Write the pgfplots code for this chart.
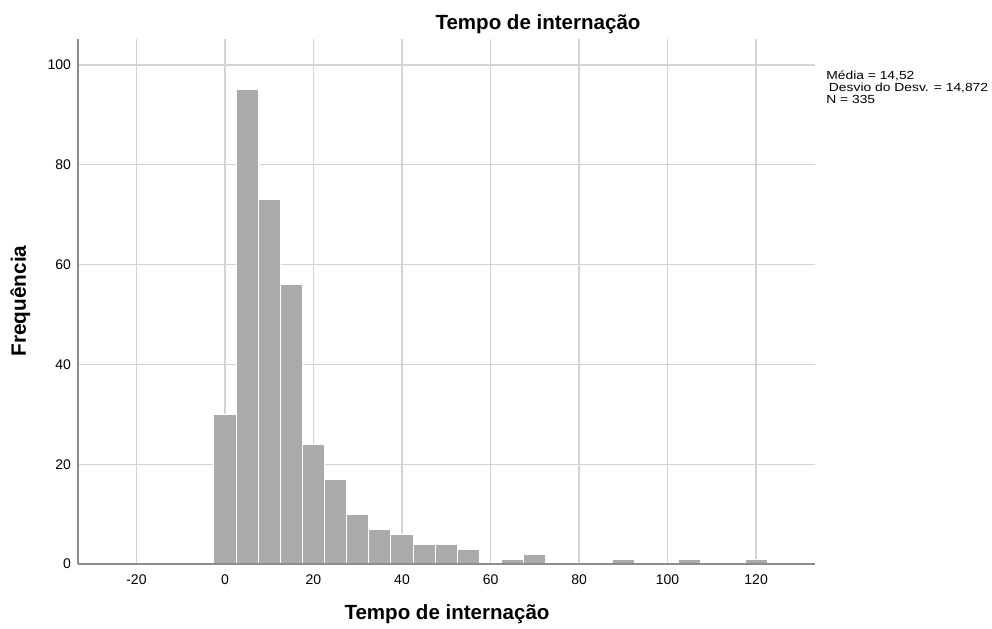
\documentclass[border=0pt]{standalone}
\usepackage{pgfplots}
\pgfplotsset{compat=1.18}
\usepackage{fontspec}
\setmainfont{Liberation Sans}
\definecolor{barfill}{RGB}{170,170,170}
\definecolor{gridc}{RGB}{212,212,212}
\definecolor{axisc}{RGB}{140,140,140}
\begin{document}
\begin{tikzpicture}
\begin{axis}[
  set layers, axis on top,
  at={(58.5pt,48pt)}, anchor=south west,
  scale only axis, width=552.75pt, height=393.75pt,
  xmin=-33.2, xmax=133.3, ymin=0, ymax=105.2,
  axis lines=left, axis line style={-, draw=axisc, line width=1pt},
  xtick={-20,0,20,40,60,80,100,120},
  ytick={0,20,40,60,80,100},
  major tick length=0pt,
  grid=major,
  major grid style={/pgfplots/on layer=axis background, draw=gridc, line width=1pt},
  tick label style={font=\fontsize{10.5pt}{12pt}\selectfont},
  /pgf/number format/assume math mode=true,
  xticklabel style={yshift=-4.7pt},
  yticklabel style={xshift=-1.7pt},
]
\addplot[ybar, bar width=5, fill=barfill, draw=white, line width=0.75pt] coordinates {
 (0,30) (5,95) (10,73) (15,56) (20,24) (25,17) (30,10) (35,7) (40,6) (45,4) (50,4) (55,3)
 (65,1) (70,2) (90,1) (105,1) (120,1)
};
\end{axis}
\node[anchor=base, font=\fontsize{15.4pt}{18pt}\selectfont\bfseries] at (403.5pt,449pt) {Tempo de internação};
\node[anchor=base, font=\fontsize{15.4pt}{18pt}\selectfont\bfseries] at (335.25pt,6.5pt) {Tempo de internação};
\node[anchor=base, rotate=90, font=\fontsize{15.6pt}{18pt}\selectfont\bfseries] at (19.5pt,245.25pt) {Frequência};
\begin{scope}[font=\fontsize{8.8pt}{10pt}\selectfont]
\node[anchor=base west, inner sep=0pt, xscale=1.18, transform shape] at (619.5pt,411.4pt) {Média = 14,52};
\node[anchor=base west, inner sep=0pt, xscale=1.18, transform shape] at (621.5pt,402.4pt) {Desvio do Desv. = 14,872};
\node[anchor=base west, inner sep=0pt, xscale=1.18, transform shape] at (619.5pt,393.4pt) {N = 335};
\end{scope}
\path[use as bounding box] (0,0) rectangle (744pt,471pt);
\end{tikzpicture}
\end{document}
